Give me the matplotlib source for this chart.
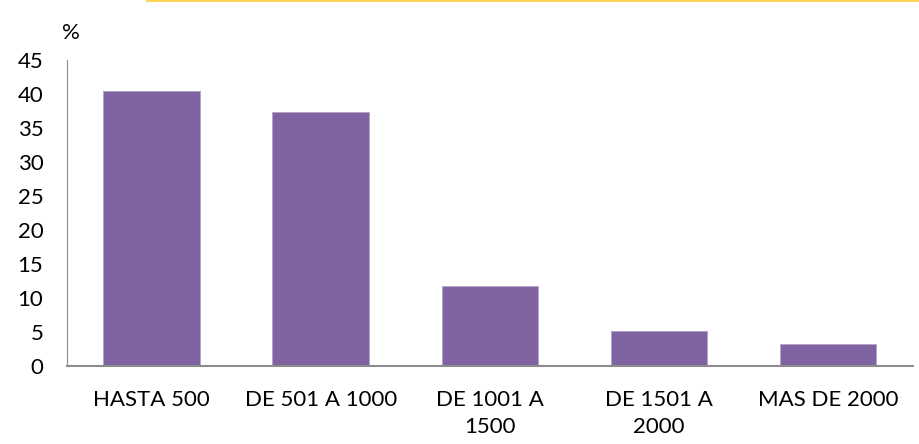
import matplotlib.pyplot as plt
from matplotlib.lines import Line2D

categorias = ['HASTA 500', 'DE 501 A 1000', 'DE 1001 A\n1500', 'DE 1501 A\n2000', 'MAS DE 2000']
porcentajes = [40.5, 37.3, 11.8, 5.2, 3.3]

plt.rcParams['font.family'] = ['Lato', 'DejaVu Sans']

fig = plt.figure(figsize=(9.2, 4.44), dpi=100)
ax = fig.add_axes([0.0728, 0.1757, 0.9192, 0.6893])

ax.bar(range(len(categorias)), porcentajes, width=0.57, color='#8064A2', edgecolor='#B3A2C7', linewidth=0.6)

ax.set_xlim(-0.5, len(categorias) - 0.5)
ax.set_ylim(0, 45)
ax.set_yticks(range(0, 46, 5))
ax.set_xticks(range(len(categorias)))
ax.set_xticklabels(categorias, linespacing=1.45)
ax.tick_params(axis='both', length=0, labelsize=16, colors='black')
ax.tick_params(axis='y', pad=17)
ax.tick_params(axis='x', pad=17)

for s in ['top', 'right']:
    ax.spines[s].set_visible(False)
ax.spines['left'].set_color('#8C8C8C')
ax.spines['bottom'].set_color('#8C8C8C')
ax.spines['bottom'].set_linewidth(1.5)

fig.text(0.067, 0.925, '%', fontsize=16, ha='left', va='center')
fig.add_artist(Line2D([0.16, 1.0], [0.999, 0.999], color='#FFD34E', linewidth=2, transform=fig.transFigure))

fig.savefig('out.png', dpi=100)
